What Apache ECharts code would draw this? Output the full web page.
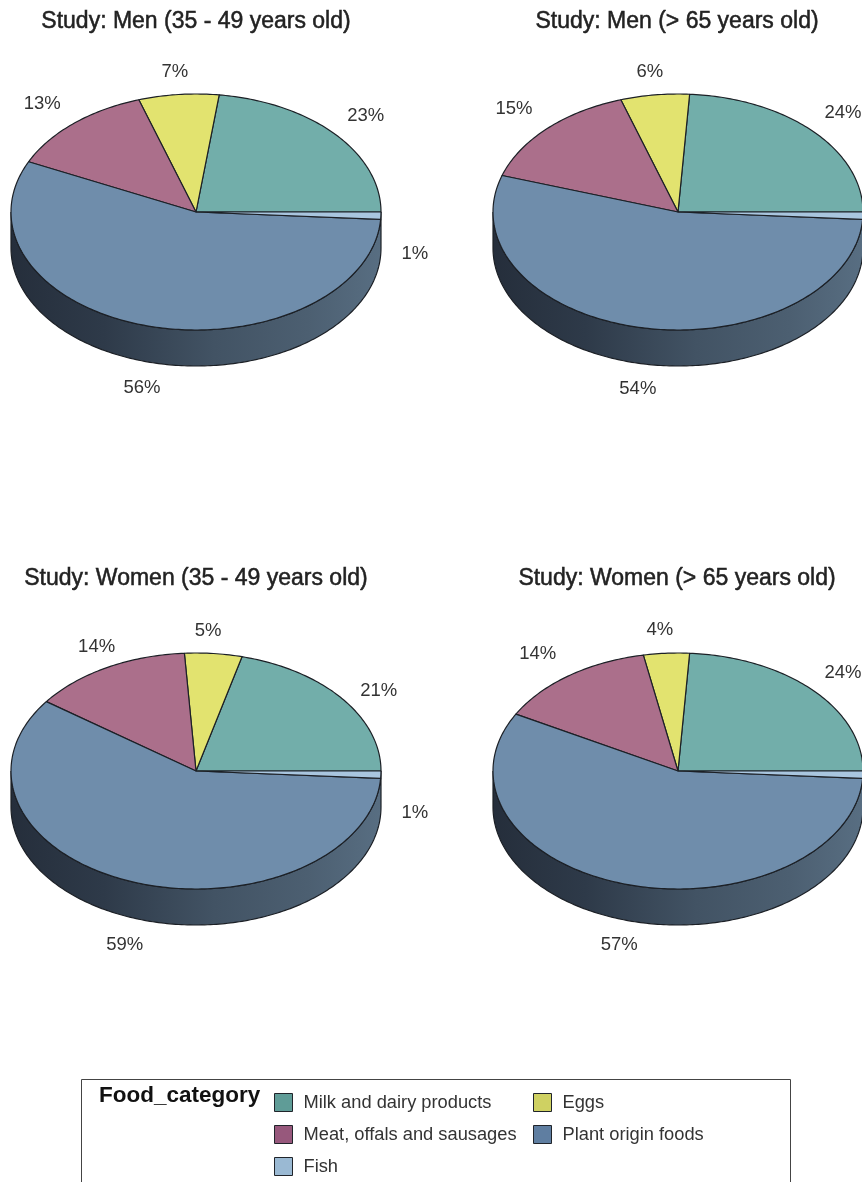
<!DOCTYPE html>
<html>
<head>
<meta charset="utf-8">
<style>html,body{margin:0;padding:0;background:#fff}#chart{width:862px;height:1182px}</style>
<script src="https://cdn.jsdelivr.net/npm/echarts@6/dist/echarts.min.js"></script>
</head>
<body>
<div id="chart"></div>
<script>
// Share of daily food intake by category, one tilted pie per study group.
const studies = [
  'Study: Men (35 - 49 years old)',
  'Study: Men (> 65 years old)',
  'Study: Women (35 - 49 years old)',
  'Study: Women (> 65 years old)'
];
const categories = ['Milk and dairy products', 'Eggs', 'Meat, offals and sausages', 'Plant origin foods', 'Fish'];
const milk = [23, 24, 21, 24];
const eggs = [7, 6, 5, 4];
const meat = [13, 15, 14, 14];
const plant = [56, 54, 59, 57];
const fish = [1, 1, 1, 1];
const values = [milk, eggs, meat, plant, fish];
const topColors = ['#72aeaa', '#e2e36f', '#ab6f8b', '#6f8dab', '#a9c6df'];
const keyColors = ['#5f9c97', '#cfd162', '#97587c', '#5f7ea1', '#9ab9d3'];

const WIDTH = 862;
const panels = [[196, 212], [678, 212], [196, 771], [678, 771]];
const RX = 185, RY = 118, DEPTH = 36;
const LABEL_RX = 225, LABEL_RY = 143;
const FONT = '"Liberation Sans", Arial, sans-serif';

// Hand placement of percentage labels, [dx, dy] per panel and category,
// so they clear neighbouring labels and the pie edge.
const labelNudges = [
  [[1, -2], [0, 2], [-5, -1], [2, 1], [-6, 1]],
  [[1, -1], [0, 2], [-5, -2], [2, 0], [0, 0]],
  [[5, 8], [-9, 2], [9, 1], [5, 3], [-6, 1]],
  [[1, 0], [-4, 2], [-8, -1], [4, 1], [0, 0]]
];

function rimPoint(c, pct, dy) {
  const a = pct / 100 * Math.PI * 2;
  return [c[0] + RX * Math.cos(a), c[1] - RY * Math.sin(a) + (dy || 0)];
}

// Pie slice on the tilted top face, from start% to end% counter-clockwise from east.
function sliceElements(params, api) {
  const c = panels[params.dataIndex];
  const k = params.seriesIndex - 1;
  const value = api.value(0), start = api.value(1);
  const pts = [c];
  const steps = Math.max(2, Math.ceil(value * 3.6));
  for (let i = 0; i <= steps; i++) pts.push(rimPoint(c, start + value * i / steps));
  const a = (start + value / 2) / 100 * Math.PI * 2;
  const sin = Math.sin(a);
  const nudge = labelNudges[params.dataIndex][k];
  const lx = c[0] + LABEL_RX * Math.cos(a) + nudge[0];
  const ly = c[1] - LABEL_RY * sin + (sin < 0 ? DEPTH : 0) + nudge[1];
  const children = [{
    type: 'polygon',
    shape: { points: pts },
    style: { fill: topColors[k], stroke: '#1c2026', lineWidth: 1.2, lineJoin: 'round' }
  }];
  if (lx + 19 < WIDTH + 2) {
    children.push({
      type: 'text',
      style: { text: value + '%', x: lx, y: ly, fill: '#333', font: '18.5px ' + FONT, align: 'center', verticalAlign: 'middle' }
    });
  }
  return { type: 'group', children };
}

// Rim below the front half of each pie.
function wallElement(params) {
  const c = panels[params.dataIndex];
  const pts = [];
  for (let p = 50; p <= 100; p += 0.25) pts.push(rimPoint(c, p));
  for (let p = 100; p >= 50; p -= 0.25) pts.push(rimPoint(c, p, DEPTH));
  return {
    type: 'polygon',
    shape: { points: pts },
    style: {
      fill: new echarts.graphic.LinearGradient(0, 0, 1, 0, [
        { offset: 0, color: '#252e3b' },
        { offset: 0.25, color: '#2e3a49' },
        { offset: 0.55, color: '#425364' },
        { offset: 0.8, color: '#4c5f71' },
        { offset: 1, color: '#586e82' }
      ]),
      stroke: '#1c2026',
      lineWidth: 1.2
    }
  };
}

const series = [{
  type: 'custom',
  name: 'Rim',
  coordinateSystem: 'none',
  silent: true,
  data: panels.map((_, i) => [i]),
  renderItem: wallElement
}];
categories.forEach((name, k) => {
  series.push({
    type: 'custom',
    name,
    coordinateSystem: 'none',
    itemStyle: { color: topColors[k] },
    data: studies.map((_, p) => {
      let start = 0;
      for (let j = 0; j < k; j++) start += values[j][p];
      return [values[k][p], start];
    }),
    renderItem: sliceElements
  });
});

const keyEntry = (name) => ({
  name,
  itemStyle: { color: keyColors[categories.indexOf(name)], borderColor: '#20242a', borderWidth: 1 }
});
const keyBase = {
  orient: 'vertical', selectedMode: false, icon: 'rect', padding: 0,
  itemWidth: 18, itemHeight: 18, itemGap: 13,
  textStyle: { fontFamily: FONT, fontSize: 18.3, color: '#333', padding: [0, 0, 0, 6] }
};

const chart = echarts.init(document.getElementById('chart'), null, { renderer: 'canvas' });
chart.setOption({
  animation: false,
  backgroundColor: '#fff',
  title: studies.map((text, i) => ({
    text,
    left: panels[i][0] - (i % 2 ? 1 : 0),
    top: i < 2 ? 10 : 567,
    textAlign: 'center',
    padding: 0,
    textStyle: {
      fontFamily: FONT, fontSize: 23, fontWeight: 'normal', color: '#222',
      textBorderColor: '#222', textBorderWidth: 0.5
    }
  })).concat([{
    text: 'Food_category', left: 99, top: 1084, padding: 0,
    textStyle: { fontFamily: FONT, fontSize: 22.5, fontWeight: 'bold', color: '#111' }
  }]),
  legend: [
    Object.assign({}, keyBase, { left: 274, top: 1093, data: ['Milk and dairy products', 'Meat, offals and sausages', 'Fish'].map(keyEntry) }),
    Object.assign({}, keyBase, { left: 533, top: 1093, data: ['Eggs', 'Plant origin foods'].map(keyEntry) })
  ],
  graphic: [{
    type: 'rect', z: -1,
    shape: { x: 81.5, y: 1079.5, width: 709, height: 200 },
    style: { fill: 'none', stroke: '#444', lineWidth: 1 }
  }],
  series
});
</script>
</body>
</html>
